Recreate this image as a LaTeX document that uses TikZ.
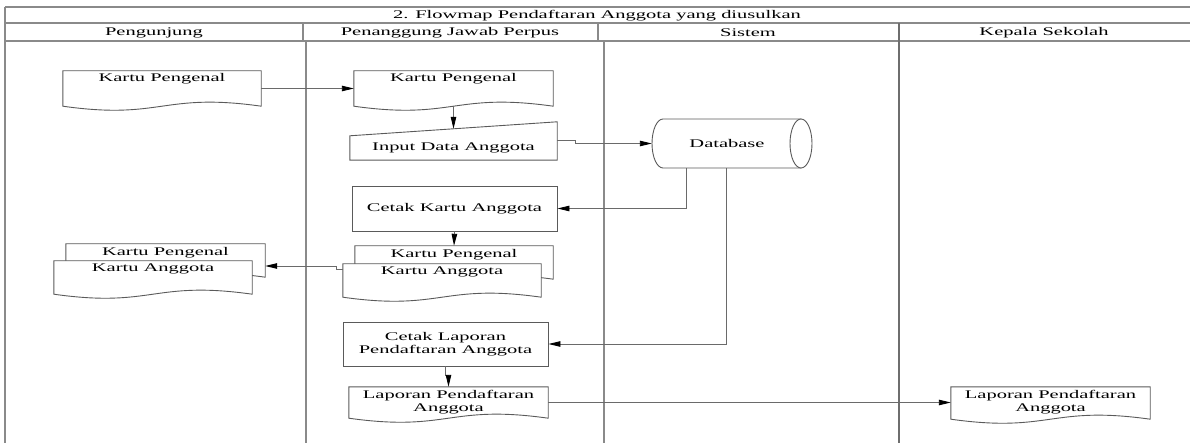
\documentclass[tikz,border=0pt]{standalone}
\usepackage{fontspec}
\setmainfont{Liberation Serif}[FakeStretch=1.75]
\usetikzlibrary{arrows.meta,calc}
\definecolor{framegray}{HTML}{8A8A8A}
\definecolor{lanegray}{HTML}{6E6E6E}
\definecolor{shapegray}{HTML}{5A5A5A}
\definecolor{conngray}{HTML}{6A6A6A}
\tikzset{
  frame/.style={draw=framegray, line width=1.4pt},
  lanethick/.style={draw=lanegray, line width=2.8pt},
  shapeline/.style={draw=shapegray, line width=0.9pt, fill=white},
  box/.style={draw=none, inner sep=0pt, minimum width=#1},
  txt/.style={font=\fontsize{11.7}{13.5}\selectfont, text=black},
  toplabel/.style={txt, anchor=north, inner sep=0pt, yshift=-2.5pt, align=center},
  conn/.style={draw=conngray, line width=0.9pt, -{Triangle[length=12pt,width=5.5pt,fill=black,color=black]}},
}
\newcommand\docdraw[1]{%
  \path[shapeline] (#1.south west) -- (#1.north west) -- (#1.north east) -- (#1.south east)
    .. controls ($(#1.south)+(0,-14)$) and ($(#1.south)+(0,14)$) .. (#1.south west) -- cycle;}
\begin{document}
\begin{tikzpicture}[x=1pt,y=-1pt]
\useasboundingbox (0,0) rectangle (1193,443);
% frame
\draw[frame] (5,7) -- (1190,7);
\draw[frame] (5,23) -- (1190,23);
\draw[frame] (5,41) -- (1190,41);
\draw[frame] (5,7) -- (5,443);
\draw[frame] (303,23) -- (303,41);
\draw[frame] (598,23) -- (598,41);
\draw[frame] (306,41) -- (306,443);
\draw[frame] (604,41) -- (604,443);
\draw[lanethick] (899,23) -- (899,443);
\node[txt] (title) at (597,15.5) {2. Flowmap Pendaftaran Anggota yang diusulkan};
\node[txt] (h1) at (154,32.5) {Pengunjung};
\node[txt] (h2) at (450,32.5) {Penanggung Jawab Perpus};
\node[txt] (h3) at (748,32.5) {Sistem};
\node[txt] (h4) at (1044,32.5) {Kepala Sekolah};

% documents row 1
\node[box=198pt, minimum height=35pt] (d1) at (162,88.5) {};
\docdraw{d1}
\node[toplabel] (d1t) at (d1.north) {Kartu Pengenal};
\node[box=199pt, minimum height=35pt] (d2) at (453.5,88.5) {};
\docdraw{d2}
\node[toplabel] (d2t) at (d2.north) {Kartu Pengenal};

% input data (manual input)
\node[box=207pt, minimum height=24pt] (in) at (453.5,148) {};
\path[shapeline] (in.south west) -- (in.north west) -- ($(in.north east)+(0,-14)$) -- (in.south east) -- cycle;
\node[txt] (intext) at (in.center) {Input Data Anggota};

% database
\node[box=160pt, minimum height=49pt] (db) at (732,143.5) {};
\path[shapeline] (663,119) -- (801,119) -- (801,168) -- (663,168)
  arc[start angle=90, end angle=270, x radius=11, y radius=24.5] -- cycle;
\draw[shapeline] (801,143.5) ellipse[x radius=11, y radius=24.5];
\node[txt] (dbtext) at (727,143.5) {Database};

% cetak kartu
\node[box=205pt, minimum height=45pt, shapeline, draw=shapegray, txt] (ck) at (454.5,208.5) {Cetak Kartu Anggota};

% stacked documents (PJ)
\node[box=198pt, minimum height=33pt] (s1b) at (454,262.5) {};
\docdraw{s1b}
\node[toplabel, yshift=-1pt] (s1bt) at (s1b.north) {Kartu Pengenal};
\node[box=198pt, minimum height=33pt] (s1f) at (442,280.5) {};
\docdraw{s1f}
\node[toplabel] (s1ft) at (s1f.north) {Kartu Anggota};

% stacked documents (Pengunjung)
\node[box=199pt, minimum height=33pt] (s2b) at (165.5,260.5) {};
\docdraw{s2b}
\node[toplabel, yshift=-1pt] (s2bt) at (s2b.north) {Kartu Pengenal};
\node[box=198pt, minimum height=33pt] (s2f) at (153,277.5) {};
\docdraw{s2f}
\node[toplabel] (s2ft) at (s2f.north) {Kartu Anggota};

% cetak laporan
\node[box=205pt, minimum height=44pt, shapeline, draw=shapegray, txt, align=center] (cl) at (445.5,344) {Cetak Laporan\\Pendaftaran Anggota};

% laporan documents
\node[box=199pt, minimum height=31pt] (lp) at (448.5,402.5) {};
\docdraw{lp}
\node[toplabel, yshift=-0.5pt] (lpt) at (lp.north) {Laporan Pendaftaran\\Anggota};
\node[box=199pt, minimum height=32pt] (kp) at (1050.5,403) {};
\docdraw{kp}
\node[toplabel, yshift=-0.5pt] (kpt) at (kp.north) {Laporan Pendaftaran\\Anggota};

% connectors
\draw[conn] (d1.east) -- (d2.west);
\draw[conn] (d2.south) -- ($(in.north)+(0,-7)$);
\draw[conn] ($(in.east)+(0,-8)$) -- ++(18,0) |- (db.west);
\draw[conn] ($(db.south west)+(35,0)$) |- (ck.east);
\draw[conn] ($(db.south west)+(75,0)$) |- (cl.east);
\draw[conn] (ck.south) -- (s1b.north);
\draw[conn] ($(s1f.north west)+(0,6)$) -- ++(-6,0) |- ($(s2b.east)+(0,5.5)$);
\draw[conn] (cl.south) -- ++(0,9) -| (lp.north);
\draw[conn] (lp.east) -- (lp.east -| kp.west);
\end{tikzpicture}
\end{document}
